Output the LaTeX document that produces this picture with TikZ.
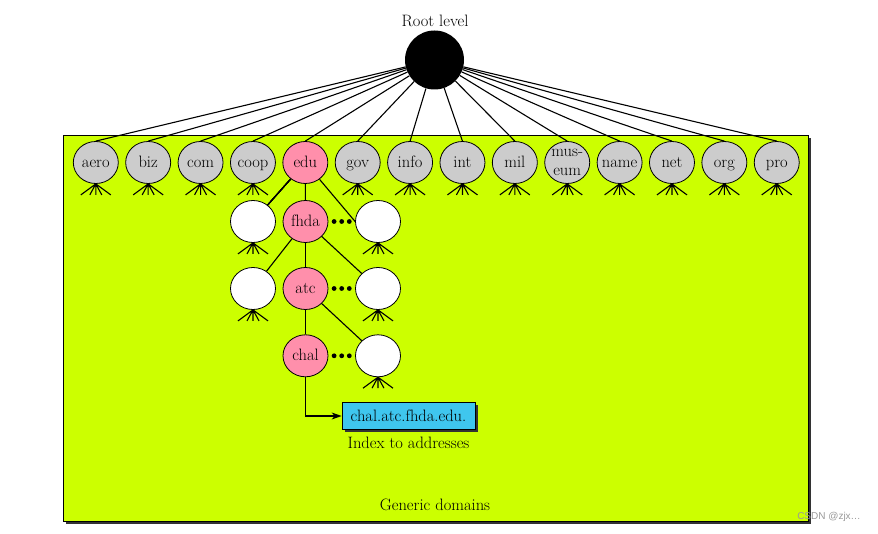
\documentclass[tikz,border=0pt]{standalone}
\usepackage{fontspec}
\usetikzlibrary{shapes.geometric,arrows.meta,calc,shadows}
\newfontfamily\wmfont{Liberation Sans}
\definecolor{domgreen}{HTML}{CCFF00}
\definecolor{dompink}{HTML}{FF8FAB}
\definecolor{domgrey}{HTML}{CCCCCC}
\definecolor{domcyan}{HTML}{3FC6EE}
\definecolor{shadowgrey}{HTML}{333333}
\newcommand\domfeet[1]{%
  \draw[link] (#1.south) -- ++(-15,11) (#1.south) -- ++(-6,11)
    (#1.south) -- ++(0,11) (#1.south) -- ++(6,11) (#1.south) -- ++(15,11);}
\begin{document}
\begin{tikzpicture}[x=1pt,y=-1pt,
  lbl/.style={font=\fontsize{16.5}{18}\selectfont},
  every label/.style={lbl, inner sep=0pt, text height=13pt, text depth=3pt},
  dom/.style={ellipse, draw, line width=0.8pt, minimum width=45pt,
    minimum height=42pt, inner sep=0pt},
  greydom/.style={dom, fill=domgrey},
  pinkdom/.style={dom, fill=dompink},
  leafdom/.style={dom, fill=white},
  link/.style={line width=1.1pt},
  dotfill/.style={fill=black},
]
\useasboundingbox (0,0) rectangle (878,534);
% domain area
\fill[shadowgrey] (66,138) rectangle (811,524);
\draw[fill=domgreen, line width=0.8pt] (63,135) rectangle (808,521);
% root
\node[circle, fill=black, minimum size=59pt, inner sep=0pt] (root) at (434.5,60) {};
\node[lbl] (rootlbl) at (435,21) {Root level};
% top level domains
\foreach \n/\i in {aero/0,biz/1,com/2,coop/3,gov/5,info/6,int/7,mil/8,name/10,net/11,org/12,pro/13}{
  \node[greydom, label=center:\n] (\n) at ({95.8+52.38*\i},162.5) {};
  \domfeet{\n}
}
\node[greydom, label={[align=center, text height={}, text depth={},
  font=\fontsize{16.5}{19}\selectfont]center:mus-\\eum}] (museum) at ({95.8+52.38*9},162.5) {};
\domfeet{museum}
\node[pinkdom, label=center:edu] (edu) at ({95.8+52.38*4},162.5) {};
\foreach \n in {aero,biz,com,coop,edu,gov,info,int,mil,museum,name,net,org,pro}
  \draw[link] (root) -- (\n.north);
% edu subtree
\node[leafdom] (wa) at (253,221.5) {};
\node[pinkdom, label=center:fhda] (fhda) at (305.5,221.5) {};
\node[leafdom] (wb) at (378,221.5) {};
\node[leafdom] (wc) at (253,288.5) {};
\node[pinkdom, label=center:atc] (atc) at (305.5,288.5) {};
\node[leafdom] (wd) at (378,288.5) {};
\node[pinkdom, label=center:chal] (chal) at (305.5,355.8) {};
\node[leafdom] (we) at (378,355.8) {};
\foreach \n in {wa,wb,wc,wd,we} \domfeet{\n}
\draw[link] (edu) -- (wa);
\draw[link] (edu) -- (fhda);
\draw[link] (edu) -- (wb.west);
\draw[link] (fhda) -- (wc);
\draw[link] (fhda) -- (atc);
\draw[link] (fhda) -- (wd);
\draw[link] (atc) -- (chal);
\draw[link] (atc) -- (we);
% dots
\foreach \y in {221.5,288.5,355.8}
  \foreach \dx in {-7.6,0,7.6}
    \fill[dotfill] (341.7+\dx,\y) circle (2.4pt);
% index box
\node[draw, fill=domcyan, line width=0.8pt, minimum width=133pt, minimum height=27pt,
  inner sep=0pt, lbl, drop shadow={shadow xshift=2.5pt, shadow yshift=-2.5pt,
  fill=shadowgrey, opacity=1}] (idx) at (408.5,416) {chal.atc.fhda.edu.};
\draw[link, -{Stealth[length=10pt,width=7pt]}] (chal.south) |- (idx.west);
\node[lbl] (idxlbl) at (408.5,443) {Index to addresses};
\node[lbl] (generic) at (435,505) {Generic domains};
% watermark
\node[font=\wmfont\fontsize{10}{12}\selectfont, text=black!40] (wm) at (829,517) {CSDN @zjx…};
\end{tikzpicture}
\end{document}
